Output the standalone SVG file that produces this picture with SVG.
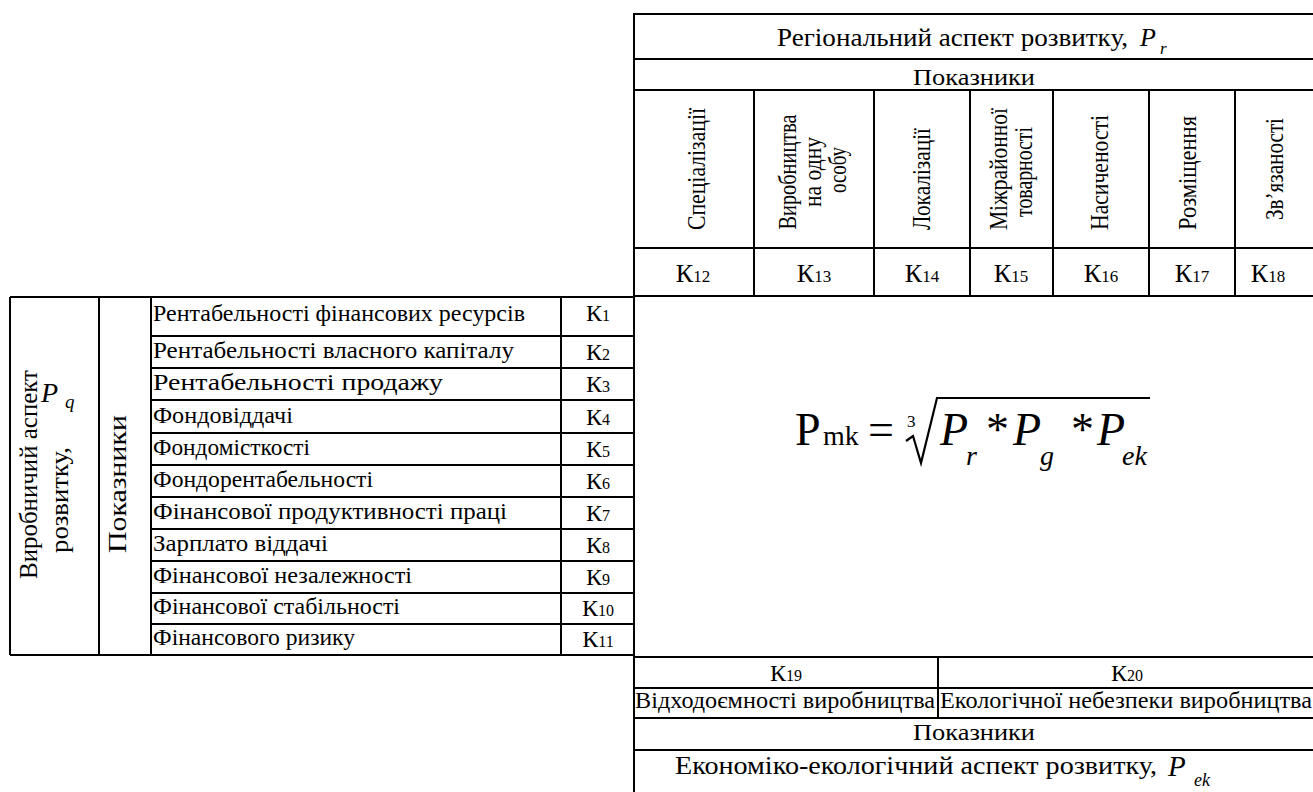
<svg xmlns="http://www.w3.org/2000/svg" width="1313" height="792" viewBox="0 0 1313 792">
<style>
.ln { stroke: #000; stroke-width: 2; fill: none; }
</style>
<rect width="1313" height="792" fill="#fff"/>

<g id="frame">
  <path class="ln" d="M634,13V792"/>
</g>

<g id="regional-table">
  <path class="ln" d="M633,14H1313 M633,59H1313 M633,90H1313 M633,248H1313 M633,296H1313 M754,90V296 M874,90V296 M970,90V296 M1053,90V296 M1149,90V296 M1235,90V296"/>
  <text font-family="Liberation Serif" x="777" y="46" font-size="25" textLength="351" lengthAdjust="spacingAndGlyphs">Регіональний аспект розвитку,</text>
  <text font-family="Liberation Serif" x="1140" y="46" font-size="26" font-style="italic">P</text>
  <text font-family="Liberation Serif" x="1160" y="54" font-size="17" font-style="italic">r</text>
  <text font-family="Liberation Serif" x="913" y="85" font-size="23" textLength="122" lengthAdjust="spacingAndGlyphs">Показники</text>
  <text font-family="Liberation Serif" font-size="26" transform="translate(705,230) rotate(-90)" textLength="122" lengthAdjust="spacingAndGlyphs">Спеціалізації</text>
  <text font-family="Liberation Serif" font-size="26" transform="translate(796,172) rotate(-90)" text-anchor="middle" textLength="115" lengthAdjust="spacingAndGlyphs">Виробництва</text>
  <text font-family="Liberation Serif" font-size="26" transform="translate(821,172) rotate(-90)" text-anchor="middle" textLength="70" lengthAdjust="spacingAndGlyphs">на одну</text>
  <text font-family="Liberation Serif" font-size="26" transform="translate(846,170) rotate(-90)" text-anchor="middle" textLength="46" lengthAdjust="spacingAndGlyphs">особу</text>
  <text font-family="Liberation Serif" font-size="26" transform="translate(930,230) rotate(-90)" textLength="102" lengthAdjust="spacingAndGlyphs">Локалізації</text>
  <text font-family="Liberation Serif" font-size="26" transform="translate(1007,230) rotate(-90)" textLength="122" lengthAdjust="spacingAndGlyphs">Міжрайонної</text>
  <text font-family="Liberation Serif" font-size="26" transform="translate(1032,217) rotate(-90)" textLength="90" lengthAdjust="spacingAndGlyphs">товарності</text>
  <text font-family="Liberation Serif" font-size="26" transform="translate(1108,230) rotate(-90)" textLength="115" lengthAdjust="spacingAndGlyphs">Насиченості</text>
  <text font-family="Liberation Serif" font-size="26" transform="translate(1196,230) rotate(-90)" textLength="114" lengthAdjust="spacingAndGlyphs">Розміщення</text>
  <text font-family="Liberation Serif" font-size="26" transform="translate(1283,220) rotate(-90)" textLength="102" lengthAdjust="spacingAndGlyphs">Зв’язаності</text>
  <text font-family="Liberation Serif" font-size="26" text-anchor="middle" x="693" y="282">К<tspan font-size="17">12</tspan></text>
  <text font-family="Liberation Serif" font-size="26" text-anchor="middle" x="814" y="282">К<tspan font-size="17">13</tspan></text>
  <text font-family="Liberation Serif" font-size="26" text-anchor="middle" x="922" y="282">К<tspan font-size="17">14</tspan></text>
  <text font-family="Liberation Serif" font-size="26" text-anchor="middle" x="1011" y="282">К<tspan font-size="17">15</tspan></text>
  <text font-family="Liberation Serif" font-size="26" text-anchor="middle" x="1101" y="282">К<tspan font-size="17">16</tspan></text>
  <text font-family="Liberation Serif" font-size="26" text-anchor="middle" x="1192" y="282">К<tspan font-size="17">17</tspan></text>
  <text font-family="Liberation Serif" font-size="26" text-anchor="middle" x="1268" y="282">К<tspan font-size="17">18</tspan></text>
</g>

<g id="production-table">
  <path class="ln" d="M10,297H634 M10,655H634 M10,297V655 M99,297V655 M151,297V655 M561,297V655 M151,336H634 M151,368H634 M151,400H634 M151,433H634 M151,465H634 M151,497H634 M151,529H634 M151,561H634 M151,593H634 M151,624H634"/>
  <text font-family="Liberation Serif" font-size="26" transform="translate(37,579) rotate(-90)" textLength="209" lengthAdjust="spacingAndGlyphs">Виробничий аспект</text>
  <text font-family="Liberation Serif" font-size="26" transform="translate(68,553) rotate(-90)" textLength="106" lengthAdjust="spacingAndGlyphs">розвитку,</text>
  <text font-family="Liberation Serif" x="41" y="402" font-size="28" font-style="italic">P</text>
  <text font-family="Liberation Serif" x="65" y="408" font-size="19" font-style="italic">q</text>
  <text font-family="Liberation Serif" font-size="25" transform="translate(126,553) rotate(-90)" textLength="138" lengthAdjust="spacingAndGlyphs">Показники</text>
  <text font-family="Liberation Serif" font-size="24" x="153" y="321" textLength="372" lengthAdjust="spacingAndGlyphs">Рентабельності фінансових ресурсів</text>
  <text font-family="Liberation Serif" font-size="24" x="153" y="358" textLength="361" lengthAdjust="spacingAndGlyphs">Рентабельності власного капіталу</text>
  <text font-family="Liberation Serif" font-size="24" x="153" y="390" textLength="290" lengthAdjust="spacingAndGlyphs">Рентабельності продажу</text>
  <text font-family="Liberation Serif" font-size="24" x="153" y="423" textLength="140" lengthAdjust="spacingAndGlyphs">Фондовіддачі</text>
  <text font-family="Liberation Serif" font-size="24" x="153" y="455" textLength="157" lengthAdjust="spacingAndGlyphs">Фондомісткості</text>
  <text font-family="Liberation Serif" font-size="24" x="153" y="487" textLength="220" lengthAdjust="spacingAndGlyphs">Фондорентабельності</text>
  <text font-family="Liberation Serif" font-size="24" x="153" y="519" textLength="354" lengthAdjust="spacingAndGlyphs">Фінансової продуктивності праці</text>
  <text font-family="Liberation Serif" font-size="24" x="153" y="551" textLength="175" lengthAdjust="spacingAndGlyphs">Зарплато віддачі</text>
  <text font-family="Liberation Serif" font-size="24" x="153" y="583" textLength="259" lengthAdjust="spacingAndGlyphs">Фінансової незалежності</text>
  <text font-family="Liberation Serif" font-size="24" x="153" y="614" textLength="247" lengthAdjust="spacingAndGlyphs">Фінансової стабільності</text>
  <text font-family="Liberation Serif" font-size="24" x="153" y="645" textLength="202" lengthAdjust="spacingAndGlyphs">Фінансового ризику</text>
  <text font-family="Liberation Serif" font-size="24" text-anchor="middle" x="598" y="321">К<tspan font-size="16">1</tspan></text>
  <text font-family="Liberation Serif" font-size="24" text-anchor="middle" x="598" y="360">К<tspan font-size="16">2</tspan></text>
  <text font-family="Liberation Serif" font-size="24" text-anchor="middle" x="598" y="392">К<tspan font-size="16">3</tspan></text>
  <text font-family="Liberation Serif" font-size="24" text-anchor="middle" x="598" y="425">К<tspan font-size="16">4</tspan></text>
  <text font-family="Liberation Serif" font-size="24" text-anchor="middle" x="598" y="457">К<tspan font-size="16">5</tspan></text>
  <text font-family="Liberation Serif" font-size="24" text-anchor="middle" x="598" y="489">К<tspan font-size="16">6</tspan></text>
  <text font-family="Liberation Serif" font-size="24" text-anchor="middle" x="598" y="521">К<tspan font-size="16">7</tspan></text>
  <text font-family="Liberation Serif" font-size="24" text-anchor="middle" x="598" y="553">К<tspan font-size="16">8</tspan></text>
  <text font-family="Liberation Serif" font-size="24" text-anchor="middle" x="598" y="585">К<tspan font-size="16">9</tspan></text>
  <text font-family="Liberation Serif" font-size="24" text-anchor="middle" x="598" y="616">К<tspan font-size="16">10</tspan></text>
  <text font-family="Liberation Serif" font-size="24" text-anchor="middle" x="598" y="647">К<tspan font-size="16">11</tspan></text>
</g>

<g id="formula">
  <text font-family="Liberation Serif" x="795" y="445" font-size="46">P</text>
  <text font-family="Liberation Serif" x="823" y="445" font-size="28">mk</text>
  <text font-family="Liberation Serif" x="868" y="445" font-size="46">=</text>
  <text font-family="Liberation Serif" x="907" y="427" font-size="17">3</text>
  <path d="M906,441 L913,436 L921,463 L937,398 L1150,398" stroke="#000" stroke-width="2.2" fill="none"/>
  <text font-family="Liberation Serif" x="940" y="445" font-size="46" font-style="italic">P</text>
  <text font-family="Liberation Serif" x="966" y="465" font-size="28" font-style="italic">r</text>
  <text font-family="Liberation Serif" x="986" y="445" font-size="46">*</text>
  <text font-family="Liberation Serif" x="1013" y="445" font-size="46" font-style="italic">P</text>
  <text font-family="Liberation Serif" x="1040" y="465" font-size="28" font-style="italic">g</text>
  <text font-family="Liberation Serif" x="1071" y="445" font-size="46">*</text>
  <text font-family="Liberation Serif" x="1097" y="445" font-size="46" font-style="italic">P</text>
  <text font-family="Liberation Serif" x="1122" y="465" font-size="28" font-style="italic">ek</text>
</g>

<g id="eco-table">
  <path class="ln" d="M633,657H1313 M633,688H1313 M633,718H1313 M633,750H1313 M938,657V718"/>
  <text font-family="Liberation Serif" font-size="24" text-anchor="middle" x="786" y="681">К<tspan font-size="16">19</tspan></text>
  <text font-family="Liberation Serif" font-size="24" text-anchor="middle" x="1127" y="681">К<tspan font-size="16">20</tspan></text>
  <text font-family="Liberation Serif" x="635" y="708" font-size="23" textLength="300" lengthAdjust="spacingAndGlyphs">Відходоємності виробництва</text>
  <text font-family="Liberation Serif" x="940" y="708" font-size="23" textLength="372" lengthAdjust="spacingAndGlyphs">Екологічної небезпеки виробництва</text>
  <text font-family="Liberation Serif" x="913" y="740" font-size="23" textLength="122" lengthAdjust="spacingAndGlyphs">Показники</text>
  <text font-family="Liberation Serif" x="675" y="774" font-size="26" textLength="482" lengthAdjust="spacingAndGlyphs">Економіко-екологічний аспект розвитку,</text>
  <text font-family="Liberation Serif" x="1168" y="776" font-size="29" font-style="italic">P</text>
  <text font-family="Liberation Serif" x="1194" y="786" font-size="18" font-style="italic">ek</text>
</g>
</svg>
